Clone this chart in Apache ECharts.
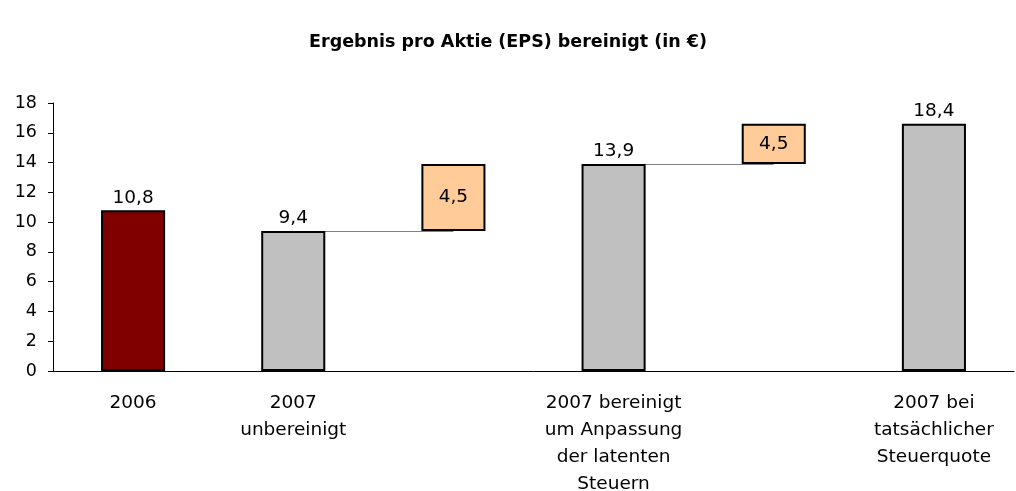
<!DOCTYPE html>
<html lang="de">
<head>
    <meta charset="UTF-8">
    <title>Ergebnis pro Aktie</title>
    <script src="https://cdn.jsdelivr.net/npm/echarts/dist/echarts.min.js"></script>
    <style>
        body, html { margin: 0; padding: 0; background: #fff; }
        #chart { width: 1016px; height: 491px; }
    </style>
</head>
<body>
<div id="chart"></div>
<script>
    // Kategorien (leere Einträge = Überleitungsbalken)
    const categories = ['2006', '2007\nunbereinigt', '', '2007 bereinigt\num Anpassung\nder latenten\nSteuern', '', '2007 bei\ntatsächlicher\nSteuerquote'];
    // unsichtbarer Sockel und sichtbare Höhe
    const baseValues = [0, 0, 9.4, 0, 13.9, 0];
    const barValues = [10.8, 9.4, 4.5, 13.9, 2.7, 16.6];
    const barLabels = ['10,8', '9,4', '4,5', '13,9', '4,5', '18,4'];
    const barColors = ['#800000', '#C0C0C0', '#FFCC99', '#C0C0C0', '#FFCC99', '#C0C0C0'];
    // Verbindungslinien: [von Kategorie, bis Kategorie, Höhe]
    const connectors = [[1, 2, 9.4], [3, 4, 13.9]];

    const chart = echarts.init(document.getElementById('chart'));
    const font = 'DejaVu Sans, Arial, sans-serif';

    const option = {
        animation: false,
        title: {
            text: 'Ergebnis pro Aktie (EPS) bereinigt (in €)',
            left: 'center',
            top: 28,
            textStyle: { fontFamily: font, fontSize: 17.5, fontWeight: 'bold', color: '#000' }
        },
        grid: { left: 53, right: 2, top: 103, bottom: 120, outerBoundsMode: 'none', containLabel: false },
        xAxis: {
            type: 'category',
            data: categories,
            axisLine: { lineStyle: { color: '#000', width: 1 } },
            axisTick: { length: 6, lineStyle: { color: '#000' } },
            axisLabel: {
                interval: 0,
                fontFamily: font,
                fontSize: 18.5,
                color: '#000',
                lineHeight: 27,
                margin: 19
            }
        },
        yAxis: {
            type: 'value',
            min: 0,
            max: 18,
            interval: 2,
            splitLine: { show: false },
            axisLine: { show: true, lineStyle: { color: '#000', width: 1 } },
            axisTick: { show: true, length: 5, lineStyle: { color: '#000' } },
            axisLabel: { fontFamily: font, fontSize: 17.5, color: '#000', margin: 16 }
        },
        series: [
            {
                name: 'Sockel',
                type: 'bar',
                stack: 'eps',
                z: 1,
                barWidth: '40%',
                itemStyle: { color: 'transparent' },
                data: baseValues,
                silent: true,
                markLine: {
                    z: 1,
                    silent: true,
                    symbol: 'none',
                    label: { show: false },
                    lineStyle: { color: '#808080', width: 1, type: 'solid' },
                    data: connectors.map(c => [
                        { coord: [c[0], c[2]] },
                        { coord: [c[1], c[2]] }
                    ])
                }
            },
            {
                name: 'EPS',
                type: 'bar',
                stack: 'eps',
                z: 3,
                barWidth: '40%',
                data: barValues.map((v, i) => ({
                    value: v,
                    itemStyle: { color: barColors[i], borderColor: '#000', borderWidth: 2 },
                    label: {
                        show: true,
                        position: baseValues[i] > 0 ? 'inside' : 'top',
                        distance: 3,
                        formatter: barLabels[i],
                        fontFamily: font,
                        fontSize: 18.5,
                        color: '#000'
                    }
                }))
            }
        ]
    };
    chart.setOption(option);
</script>
</body>
</html>
